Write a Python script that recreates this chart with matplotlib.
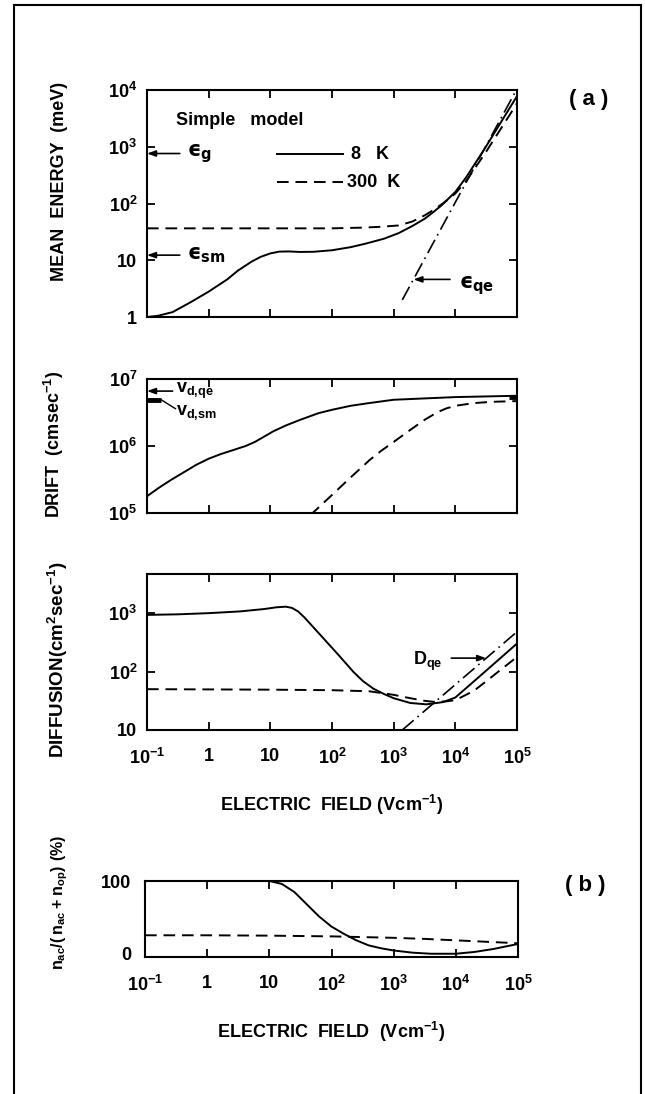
import numpy as np
import matplotlib
matplotlib.use("Agg")
import matplotlib.pyplot as plt
from matplotlib.lines import Line2D

plt.rcParams["font.family"] = ["Liberation Sans", "DejaVu Sans"]
plt.rcParams["font.weight"] = "bold"
plt.rcParams["axes.labelweight"] = "bold"
plt.rcParams["mathtext.fontset"] = "custom"
plt.rcParams["mathtext.rm"] = "Liberation Sans:bold"
plt.rcParams["mathtext.it"] = "DejaVu Sans:bold"
plt.rcParams["mathtext.bf"] = "Liberation Sans:bold"
plt.rcParams["mathtext.sf"] = "Liberation Sans:bold"

# ---------------- data ----------------
field_ticks = [0.1, 1, 10, 100, 1e3, 1e4, 1e5]
field_tick_labels = ["$10^{-1}$", "1", "10", "$10^2$", "$10^3$", "$10^4$", "$10^5$"]

# mean energy (meV)
energy_8k_field = [0.1, 0.15, 0.26, 0.5, 1, 2, 3, 5, 7, 10, 14, 20, 30, 50, 100, 200,
                   350, 700, 1200, 2000, 3200, 4500, 6000, 1e4, 1.5e4, 3e4, 1e5]
energy_8k = [1.0, 1.05, 1.22, 1.8, 2.8, 4.6, 6.6, 9.5, 11.5, 13.2, 14.2, 14.3, 14.0, 14.1,
             15.0, 17.0, 19.6, 24, 30, 40, 54, 72, 93, 160, 290, 930, 7800]
energy_300k_field = [0.1, 1, 10, 100, 300, 600, 1200, 2000, 3200, 4700, 6800, 1e4, 1.5e4,
                     3e4, 1e5]
energy_300k = [36.5, 36.5, 36.5, 36.5, 37.5, 38.8, 41, 48, 62, 80, 107, 150, 250, 750, 5800]
energy_qe_field = [1380, 1e5]
energy_qe = [2.0, 10500]
energy_gap = 760
energy_sm = 12.3

# drift velocity (cm/s)
drift_8k_field = [0.1, 0.158, 0.251, 0.398, 0.631, 1, 1.58, 2.51, 3.98, 5.62, 7.94, 11.2,
                  18.2, 30.2, 60.3, 100, 200, 398, 1000, 3160, 1e4, 1e5]
drift_8k = [1.78e5, 2.40e5, 3.16e5, 4.07e5, 5.25e5, 6.46e5, 7.59e5, 8.71e5, 1.0e6, 1.15e6,
            1.38e6, 1.66e6, 2.04e6, 2.45e6, 3.09e6, 3.47e6, 3.98e6, 4.37e6, 4.9e6, 5.13e6,
            5.37e6, 5.62e6]
drift_300k_field = [44.7, 100, 200, 407, 631, 1000, 1860, 3160, 5010, 7080, 1e4, 2e4, 4e4,
                    1e5]
drift_300k = [0.93e5, 1.86e5, 3.39e5, 6.17e5, 8.51e5, 1.15e6, 1.74e6, 2.45e6, 3.16e6,
              3.63e6, 3.98e6, 4.37e6, 4.57e6, 4.68e6]
drift_qe = 6.6e6
drift_sm = 4.9e6

# diffusion coefficient (cm^2/s)
diff_8k_field = [0.1, 0.32, 1, 3.2, 7.9, 12.6, 17.8, 22.4, 28.2, 35.5, 63, 126, 224, 316,
                 468, 708, 1000, 1860, 3390, 6310, 1e4, 2e4, 4e4, 1e5]
diff_8k = [933, 955, 1000, 1070, 1175, 1260, 1290, 1230, 1070, 850, 437, 195, 98, 69, 51,
           41, 35, 29, 27.5, 30, 36, 68, 129, 302]
diff_300k_field = [0.1, 10, 100, 400, 1000, 1860, 3160, 4700, 7100, 1e4, 2e4, 4e4, 1e5]
diff_300k = [50, 49, 48, 46, 40, 35, 31.6, 30.2, 30.9, 32.4, 46.8, 83, 178]
diff_qe_field = [1380, 1e5]
diff_qe = [10, 480]

# acoustic share of scattering events (%)
share_8k_field = [0.1, 1, 10, 15.8, 25.1, 39.8, 63.1, 100, 158, 251, 398, 631, 1000, 2000,
                  3980, 1e4, 2e4, 3.98e4, 1e5]
share_8k = [100, 100, 100, 96, 85, 68, 51, 37, 27, 18, 11, 7, 4, 1, -0.5, -0.5, 2, 6, 13]
share_300k_field = [0.1, 1, 10, 100, 316, 1000, 3160, 1e4, 3.16e4, 1e5]
share_300k = [25, 25, 24.5, 23.5, 22.5, 21.5, 20, 18, 16, 14]

# ---------------- figure ----------------
W, H = 645, 1094
fig = plt.figure(figsize=(W / 100, H / 100), dpi=100)


def axes_px(x0, x1, y0, y1):
    return fig.add_axes([x0 / W, 1 - y1 / H, (x1 - x0) / W, (y1 - y0) / H])


LW = 1.4
DASH = (0, (6, 3.5))
DASHDOT = (0, (9, 3, 1, 3))
TICK_FS = 13
LABEL_FS = 13
EPS = "\u03f5"  # lunate epsilon


def style_axes(ax, xlabels):
    ax.set_xscale("log")
    ax.set_xlim(0.1, 1e5)
    ax.set_xticks(field_ticks)
    ax.minorticks_off()
    if xlabels:
        ax.set_xticklabels(field_tick_labels)
    else:
        ax.set_xticklabels([])
    ax.tick_params(direction="in", length=6, width=1.3, top=True, right=True,
                   labelsize=TICK_FS, pad=7)
    ax.tick_params(axis="x", pad=13)
    for s in ax.spines.values():
        s.set_linewidth(1.5)


# ---- mean energy ----
ax1 = axes_px(147, 517, 90, 317)
style_axes(ax1, False)
ax1.set_yscale("log")
ax1.set_ylim(1, 1e4)
ax1.set_yticks([1, 10, 100, 1e3, 1e4])
ax1.set_yticklabels(["1", "10", "$10^2$", "$10^3$", "$10^4$"])
ax1.minorticks_off()
ax1.plot(energy_8k_field, energy_8k, color="black", lw=LW)
ax1.plot(energy_300k_field, energy_300k, color="black", lw=LW, ls=DASH)
ax1.plot(energy_qe_field, energy_qe, color="black", lw=1.2, ls=DASHDOT)
ax1.set_ylabel("MEAN  ENERGY  (meV)", fontsize=LABEL_FS)
ax1.yaxis.set_label_coords(-0.213, 0.595)

arrow = dict(arrowstyle="-|>,head_length=0.5,head_width=0.18", color="black", lw=1.2,
             shrinkA=0, shrinkB=0)
ax1.annotate("", xy=(0.1, energy_gap), xytext=(0.34, energy_gap), arrowprops=arrow)
ax1.text(0.45, energy_gap, "$" + EPS + "_{g}$", fontsize=15, va="center", ha="left")
ax1.annotate("", xy=(0.1, energy_sm), xytext=(0.34, energy_sm), arrowprops=arrow)
ax1.text(0.45, energy_sm, "$" + EPS + "_{sm}$", fontsize=15, va="center", ha="left")
ax1.annotate("", xy=(2090, 4.6), xytext=(8200, 4.6), arrowprops=arrow)
ax1.text(11500, 3.6, "$" + EPS + "_{qe}$", fontsize=15, va="center", ha="left")

ax1.text(0.3, 2950, "Simple   model", fontsize=13, va="center", ha="left")
ax1.plot([12.9, 151], [740, 740], color="black", lw=LW)
ax1.text(205, 740, "8   K", fontsize=13, va="center", ha="left")
ax1.plot([12.9, 151], [237, 237], color="black", lw=LW, ls=DASH)
ax1.text(175, 237, "300  K", fontsize=13, va="center", ha="left")

# ---- drift velocity ----
ax2 = axes_px(147, 517, 379, 513)
style_axes(ax2, False)
ax2.set_yscale("log")
ax2.set_ylim(1e5, 1e7)
ax2.set_yticks([1e5, 1e6, 1e7])
ax2.set_yticklabels(["$10^5$", "$10^6$", "$10^7$"])
ax2.minorticks_off()
ax2.plot(drift_8k_field, drift_8k, color="black", lw=LW)
ax2.plot(drift_300k_field, drift_300k, color="black", lw=LW, ls=DASH)
ax2.set_ylabel("DRIFT  (cmsec$^{-1}$)", fontsize=LABEL_FS)
ax2.yaxis.set_label_coords(-0.219, 0.515)
ax2.annotate("", xy=(0.1, drift_qe), xytext=(0.26, drift_qe), arrowprops=arrow)
ax2.text(0.29, drift_qe, r"$\mathrm{v_{d{,}qe}}$", fontsize=13, va="center", ha="left")
ax2.plot([0.1, 0.17], [drift_sm, drift_sm], color="black", lw=3.5, solid_capstyle="butt")
ax2.plot([0.17, 0.29], [drift_sm, 3.6e6], color="black", lw=1.0)
ax2.text(0.3, 3.2e6, r"$\mathrm{v_{d{,}sm}}$", fontsize=13, va="center", ha="left")
ax2.plot([7.5e4, 1e5], [5.4e6, 5.4e6], color="black", lw=3.5, solid_capstyle="butt")

# ---- diffusion ----
ax3 = axes_px(147, 517, 574, 730)
style_axes(ax3, True)
ax3.set_yscale("log")
ax3.set_ylim(10, 10 ** 3.67)
ax3.set_yticks([10, 100, 1000])
ax3.set_yticklabels(["10", "$10^2$", "$10^3$"])
ax3.minorticks_off()
ax3.plot(diff_8k_field, diff_8k, color="black", lw=LW)
ax3.plot(diff_300k_field, diff_300k, color="black", lw=LW, ls=DASH)
ax3.plot(diff_qe_field, diff_qe, color="black", lw=1.2, ls=DASHDOT)
ax3.set_ylabel("DIFFUSION(cm$^{2}$sec$^{-1}$)", fontsize=LABEL_FS + 0.5)
ax3.yaxis.set_label_coords(-0.208, 0.449)
ax3.set_xlabel("ELECTRIC  FIELD (Vcm$^{-1}$)", fontsize=LABEL_FS, labelpad=18)
ax3.annotate("", xy=(31600, 170), xytext=(8600, 170), arrowprops=arrow)
ax3.text(2040, 150, r"$\mathrm{D_{qe}}$", fontsize=13, va="center", ha="left")

# ---- acoustic share ----
ax4 = axes_px(145, 518, 881, 957)
style_axes(ax4, True)
ax4.set_ylim(-5, 100)
ax4.set_yticks([0, 100])
ax4.set_yticklabels(["0", "100"])
ax4.tick_params(axis="y", length=0, pad=10)
ax4.plot(share_8k_field, share_8k, color="black", lw=LW)
ax4.plot(share_300k_field, share_300k, color="black", lw=LW, ls=DASH)
ax4.set_ylabel(r"$\mathrm{n_{ac}/(\,n_{ac}+n_{op})\ (\%)}$", fontsize=11.5)
ax4.yaxis.set_label_coords(-0.201, 0.72)
ax4.set_xlabel("ELECTRIC  FIELD  (Vcm$^{-1}$)", fontsize=LABEL_FS, labelpad=18)

fig.text(589 / W, 1 - 100 / H, "( a )", fontsize=16, ha="center", va="center")
fig.text(585 / W, 1 - 885 / H, "( b )", fontsize=16, ha="center", va="center")

# page frame
fx0, fx1, fy1 = 14 / W, 641 / W, 1 - 5 / H
for xs, ys in [([fx0, fx0], [0, fy1]), ([fx1, fx1], [0, fy1]), ([fx0, fx1], [fy1, fy1])]:
    fig.add_artist(Line2D(xs, ys, transform=fig.transFigure, color="black", lw=1.5))

fig.savefig("out.png", dpi=100)
